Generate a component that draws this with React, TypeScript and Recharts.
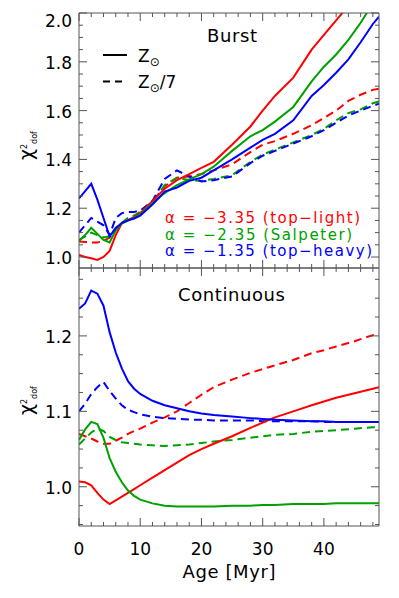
import { LineChart, Line, XAxis, YAxis } from "recharts";

// burst panel, ages in Myr
const burstAges = [0, 1, 2, 3, 4, 5, 6, 7, 8, 9, 10, 12, 14, 16, 18, 20, 22, 25, 28, 30, 32, 35, 38, 40, 42, 44, 46, 48, 49];
const burstRedSolar = [1.008, 1.0, 0.995, 0.988, 1.0, 1.025, 1.09, 1.138, 1.15, 1.165, 1.18, 1.23, 1.28, 1.315, 1.34, 1.365, 1.39, 1.46, 1.535, 1.6, 1.66, 1.735, 1.85, 1.91, 1.97, 2.03, null, null, null];
const burstGreenSolar = [1.065, 1.09, 1.12, 1.095, 1.07, 1.06, 1.11, 1.138, 1.15, 1.16, 1.175, 1.22, 1.262, 1.295, 1.318, 1.34, 1.37, 1.435, 1.495, 1.52, 1.555, 1.615, 1.72, 1.78, 1.83, 1.89, 1.96, 2.04, null];
const burstBlueSolar = [1.24, 1.27, 1.3, 1.235, 1.16, 1.085, 1.118, 1.14, 1.15, 1.158, 1.17, 1.215, 1.268, 1.285, 1.312, 1.325, 1.355, 1.4, 1.448, 1.48, 1.505, 1.56, 1.66, 1.705, 1.755, 1.81, 1.88, 1.955, 1.985];
const burstRedLow = [1.064, 1.062, 1.06, 1.06, 1.065, 1.08, 1.11, 1.138, 1.15, 1.165, 1.18, 1.225, 1.29, 1.325, 1.33, 1.34, 1.355, 1.38, 1.43, 1.46, 1.475, 1.505, 1.54, 1.57, 1.6, 1.64, 1.665, 1.685, 1.69];
const burstGreenLow = [1.07, 1.085, 1.1, 1.09, 1.08, 1.085, 1.12, 1.14, 1.16, 1.17, 1.185, 1.225, 1.295, 1.325, 1.315, 1.312, 1.32, 1.335, 1.39, 1.42, 1.44, 1.47, 1.5, 1.525, 1.56, 1.59, 1.605, 1.63, 1.638];
const burstBlueLow = [1.1, 1.13, 1.16, 1.145, 1.13, 1.09, 1.16, 1.18, 1.185, 1.185, 1.19, 1.23, 1.32, 1.355, 1.33, 1.31, 1.315, 1.33, 1.385, 1.415, 1.435, 1.465, 1.495, 1.52, 1.55, 1.58, 1.6, 1.62, 1.628];

// continuous panel
const contAges = [0, 1, 2, 3, 4, 5, 6, 7, 8, 9, 10, 12, 14, 16, 18, 20, 22, 25, 28, 30, 32, 35, 38, 40, 42, 45, 48, 49];
const contRedSolar = [1.007, 1.006, 1.002, 0.992, 0.983, 0.977, 0.982, 0.987, 0.992, 0.997, 1.002, 1.012, 1.022, 1.032, 1.042, 1.05, 1.057, 1.067, 1.078, 1.085, 1.092, 1.1, 1.108, 1.113, 1.118, 1.124, 1.13, 1.132];
const contGreenSolar = [1.062, 1.076, 1.086, 1.083, 1.065, 1.038, 1.02, 1.006, 0.995, 0.988, 0.983, 0.978, 0.975, 0.974, 0.974, 0.974, 0.974, 0.975, 0.975, 0.976, 0.976, 0.977, 0.977, 0.977, 0.978, 0.978, 0.978, 0.978];
const contBlueSolar = [1.236, 1.243, 1.26, 1.256, 1.24, 1.205, 1.178, 1.157, 1.14, 1.13, 1.123, 1.114, 1.108, 1.104, 1.1, 1.097, 1.095, 1.093, 1.091, 1.09, 1.089, 1.088, 1.087, 1.087, 1.086, 1.086, 1.086, 1.086];
const contRedLow = [1.07, 1.067, 1.064, 1.06, 1.057, 1.057, 1.061, 1.065, 1.07, 1.074, 1.077, 1.085, 1.092, 1.1, 1.111, 1.122, 1.132, 1.142, 1.151, 1.156, 1.161, 1.168, 1.177, 1.181, 1.186, 1.193, 1.201, 1.203];
const contGreenLow = [1.056, 1.064, 1.072, 1.077, 1.074, 1.066, 1.062, 1.059, 1.058, 1.057, 1.056, 1.055, 1.054, 1.055, 1.056, 1.058, 1.06, 1.062, 1.065, 1.067, 1.069, 1.07, 1.073, 1.074, 1.075, 1.077, 1.079, 1.079];
const contBlueLow = [1.1, 1.11, 1.123, 1.132, 1.139, 1.127, 1.117, 1.108, 1.102, 1.099, 1.096, 1.093, 1.091, 1.09, 1.089, 1.089, 1.088, 1.088, 1.088, 1.087, 1.087, 1.087, 1.087, 1.086, 1.086, 1.086, 1.086, 1.086];

// ticks (major + minor)
const xTicks = [0, 2, 4, 6, 8, 10, 12, 14, 16, 18, 20, 22, 24, 26, 28, 30, 32, 34, 36, 38, 40, 42, 44, 46, 48];
const burstYTicks = [1.0, 1.05, 1.1, 1.15, 1.2, 1.25, 1.3, 1.35, 1.4, 1.45, 1.5, 1.55, 1.6, 1.65, 1.7, 1.75, 1.8, 1.85, 1.9, 1.95, 2.0];
const contYTicks = [0.95, 0.975, 1.0, 1.025, 1.05, 1.075, 1.1, 1.125, 1.15, 1.175, 1.2, 1.225, 1.25, 1.275];

const RED = "#ff0000";
const GREEN = "#00a000";
const BLUE = "#0000ff";
const AXIS = "#555555";
const FONT = "DejaVu Sans";

const burstData = burstAges.map((age, i) => ({
  age,
  rs: burstRedSolar[i],
  gs: burstGreenSolar[i],
  bs: burstBlueSolar[i],
  rl: burstRedLow[i],
  gl: burstGreenLow[i],
  bl: burstBlueLow[i],
}));

const contData = contAges.map((age, i) => ({
  age,
  rs: contRedSolar[i],
  gs: contGreenSolar[i],
  bs: contBlueSolar[i],
  rl: contRedLow[i],
  gl: contGreenLow[i],
  bl: contBlueLow[i],
}));

type Side = "bottom" | "top" | "left" | "right";

const isMajor = (v: number, step: number) => Math.abs(v / step - Math.round(v / step)) < 1e-6;

// IDL-style ticks pointing into the plot
function makeTick(side: Side, step: number, labels = false, topValue?: number) {
  return (props: any) => {
    const { x, y, payload } = props;
    const v = payload.value as number;
    const major = isMajor(v, step);
    const len = major ? 8 : 4;
    let line;
    if (side === "bottom") line = <line x1={x} x2={x} y1={y} y2={y - len} stroke={AXIS} />;
    else if (side === "top") line = <line x1={x} x2={x} y1={y} y2={y + len} stroke={AXIS} />;
    else if (side === "left") line = <line x1={x} x2={x + len} y1={y} y2={y} stroke={AXIS} />;
    else line = <line x1={x} x2={x - len} y1={y} y2={y} stroke={AXIS} />;
    let label = null;
    if (labels && major) {
      if (side === "left") {
        const shift = topValue !== undefined && Math.abs(v - topValue) < 1e-6 ? 7 : 0;
        label = (
          <text x={x - 7} y={y + 7 + shift} textAnchor="end" fontSize={17} fontFamily={FONT} fill="#000">
            {v.toFixed(1)}
          </text>
        );
      } else if (side === "bottom") {
        label = (
          <text x={x} y={y + 29} textAnchor="middle" fontSize={17} fontFamily={FONT} fill="#000">
            {String(v)}
          </text>
        );
      }
    }
    return (
      <g>
        {line}
        {label}
      </g>
    );
  };
}

function lines() {
  const common = { xAxisId: "b", yAxisId: "l", type: "linear" as const, dot: false, strokeWidth: 2, isAnimationActive: false, activeDot: false };
  return [
    <Line key="rl" dataKey="rl" stroke={RED} strokeDasharray="8 5" {...common} />,
    <Line key="gl" dataKey="gl" stroke={GREEN} strokeDasharray="8 5" {...common} />,
    <Line key="bl" dataKey="bl" stroke={BLUE} strokeDasharray="8 5" {...common} />,
    <Line key="rs" dataKey="rs" stroke={RED} {...common} />,
    <Line key="gs" dataKey="gs" stroke={GREEN} {...common} />,
    <Line key="bs" dataKey="bs" stroke={BLUE} {...common} />,
  ];
}

function axes(yDomain: [number, number], yTicks: number[], yStep: number, bottomLabels: boolean, topValue?: number) {
  const axisLine = { stroke: AXIS, strokeWidth: 1 };
  return [
    <XAxis key="xb" xAxisId="b" orientation="bottom" type="number" dataKey="age" domain={[0, 49]} allowDataOverflow
      ticks={xTicks} interval={0} height={1} tickSize={0} tickMargin={0} tickLine={false} axisLine={axisLine}
      tick={makeTick("bottom", 10, bottomLabels)} />,
    <XAxis key="xt" xAxisId="t" orientation="top" type="number" dataKey="age" domain={[0, 49]} allowDataOverflow
      ticks={xTicks} interval={0} height={1} tickSize={0} tickMargin={0} tickLine={false} axisLine={axisLine}
      tick={makeTick("top", 10)} />,
    <YAxis key="yl" yAxisId="l" orientation="left" type="number" domain={yDomain} allowDataOverflow
      ticks={yTicks} interval={0} width={1} tickSize={0} tickMargin={0} tickLine={false} axisLine={axisLine}
      tick={makeTick("left", yStep, true, topValue)} />,
    <YAxis key="yr" yAxisId="r" orientation="right" type="number" domain={yDomain} allowDataOverflow
      ticks={yTicks} interval={0} width={1} tickSize={0} tickMargin={0} tickLine={false} axisLine={axisLine}
      tick={makeTick("right", yStep)} />,
  ];
}

function ChiLabel({ x, y }: { x: number; y: number }) {
  return (
    <g transform={`translate(${x},${y}) rotate(-90)`}>
      <text x={-15} y={0} fontSize={19} fontFamily={FONT} fill="#000">
        χ<tspan fontSize={8} dy={-6}>2</tspan><tspan fontSize={8} dy={10}>dof</tspan>
      </text>
    </g>
  );
}

export default function App() {
  return (
    <div style={{ position: "absolute", left: 0, top: 0, width: 399, height: 598, background: "#fff" }}>
      <div style={{ position: "absolute", left: 0, top: 0 }}>
        <LineChart width={399} height={269} data={burstData} margin={{ top: 12, right: 19, bottom: 0, left: 78 }}>
          {axes([0.955, 2.0], burstYTicks, 0.2, false, 2.0)}
          {lines()}
        </LineChart>
      </div>
      <div style={{ position: "absolute", left: 0, top: 267 }}>
        <LineChart width={399} height={331} data={contData} margin={{ top: 0, right: 19, bottom: 71, left: 78 }}>
          {axes([0.948, 1.29], contYTicks, 0.1, true)}
          {lines()}
        </LineChart>
      </div>
      <svg width={399} height={598} style={{ position: "absolute", left: 0, top: 0, pointerEvents: "none" }}>
        <ChiLabel x={33} y={145} />
        <ChiLabel x={33} y={400} />
        <text x={207} y={42} fontSize={18} fontFamily={FONT} textLength={50} lengthAdjust="spacing">Burst</text>
        <text x={178} y={301} fontSize={18} fontFamily={FONT} textLength={107} lengthAdjust="spacing">Continuous</text>
        <text x={229} y={578} fontSize={18} fontFamily={FONT} textAnchor="middle" textLength={93} lengthAdjust="spacing">Age [Myr]</text>

        <line x1={103} x2={127} y1={55} y2={55} stroke="#000" strokeWidth={2} />
        <line x1={103} x2={127} y1={81.5} y2={81.5} stroke="#000" strokeWidth={2} strokeDasharray="7 5" />
        <text x={138} y={62} fontSize={17} fontFamily={FONT}>
          Z<tspan fontSize={12} dy={4}>⊙</tspan>
        </text>
        <text x={138} y={88} fontSize={17} fontFamily={FONT}>
          Z<tspan fontSize={12} dy={4}>⊙</tspan><tspan dy={-4}>/7</tspan>
        </text>

        <text x={165} y={223} fontSize={15} fontFamily={FONT} fill={RED} textLength={195} lengthAdjust="spacing">α = −3.35 (top−light)</text>
        <text x={165} y={239.5} fontSize={15} fontFamily={FONT} fill={GREEN} textLength={187} lengthAdjust="spacing">α = −2.35 (Salpeter)</text>
        <text x={165} y={256} fontSize={15} fontFamily={FONT} fill={BLUE} textLength={207} lengthAdjust="spacing">α = −1.35 (top−heavy)</text>
      </svg>
    </div>
  );
}
